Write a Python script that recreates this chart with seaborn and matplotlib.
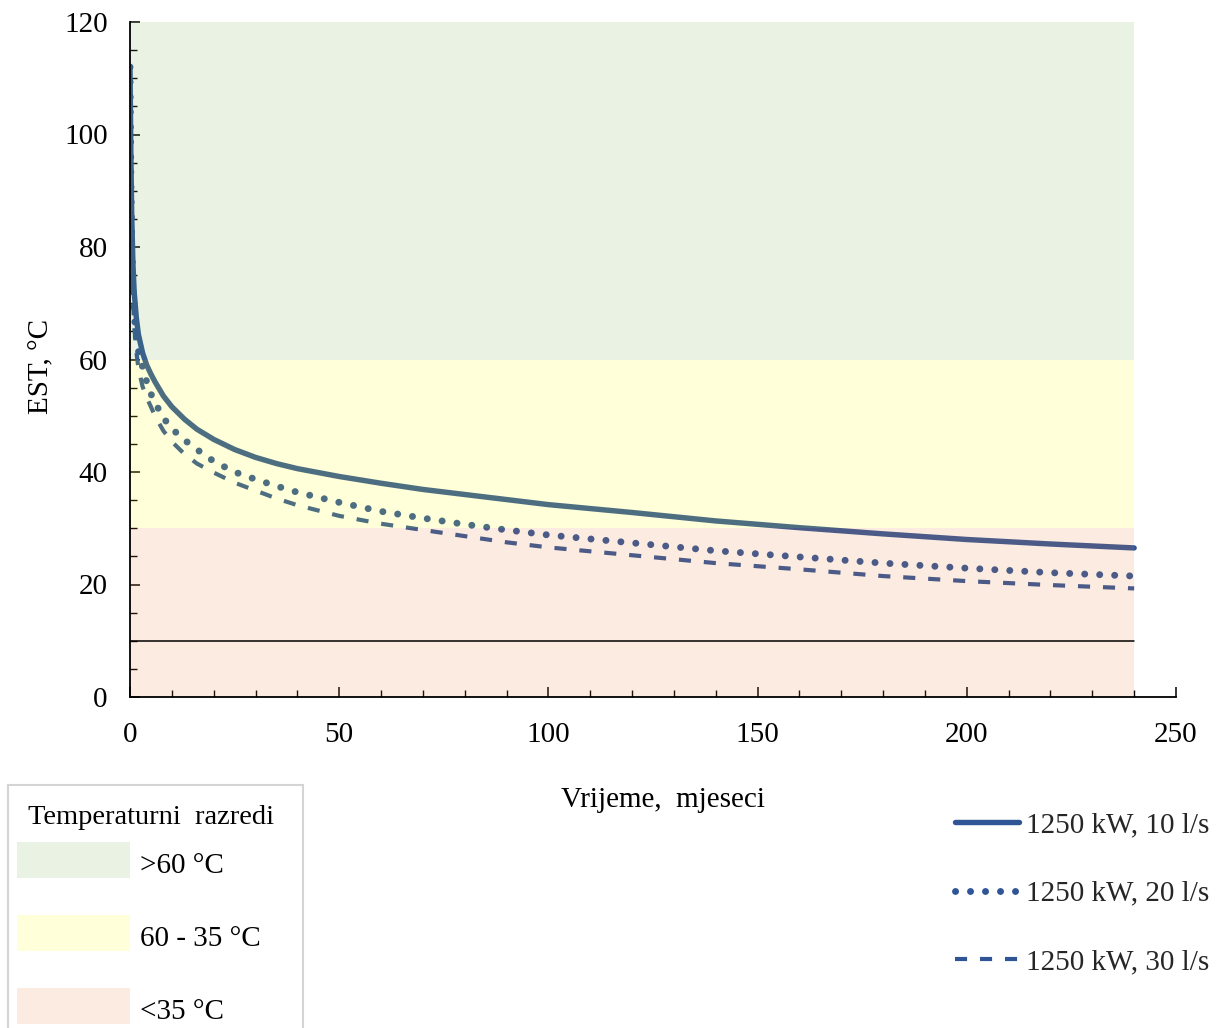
import numpy as np
import pandas as pd
import seaborn as sns
import matplotlib.pyplot as plt
from matplotlib.lines import Line2D
from matplotlib.patches import Rectangle
from matplotlib.ticker import MultipleLocator

# months since start of production
months = [0, 0.2, 0.4, 0.7, 1, 1.5, 2, 3, 4, 5, 6, 8, 10, 13, 16, 20, 25, 30, 35,
          40, 50, 60, 70, 80, 90, 100, 120, 140, 160, 180, 200, 220, 240]

# entering source temperature (EST), deg C
est_10 = [112, 97, 86, 77, 72, 67.5, 64.5, 61.2, 59, 57.4, 56, 53.5, 51.6, 49.4, 47.6,
          45.8, 44.0, 42.6, 41.5, 40.6, 39.2, 38.0, 36.9, 36.0, 35.1, 34.2, 32.8,
          31.3, 30.1, 29.0, 28.0, 27.2, 26.5]
est_20 = [112, 93, 82, 73, 68, 64, 61.5, 58.7, 56, 53.9, 52.3, 49.6, 47.7, 45.7,
          44.0, 41.9, 40.0, 38.7, 37.5, 36.4, 34.6, 33.0, 31.8, 30.7, 29.7, 28.8,
          27.4, 26.0, 24.9, 23.8, 22.9, 22.1, 21.5]
est_30 = [110, 91, 80, 71, 66, 61.5, 58.5, 55.2, 53.2, 51.6, 49.9, 47.3, 45.4, 43.2, 41.5,
          39.9, 38.1, 36.7, 35.3, 34.1, 32.2, 30.8, 29.7, 28.6, 27.5, 26.6, 25.2,
          23.8, 22.7, 21.5, 20.6, 19.9, 19.3]
series_names = ['1250 kW, 10 l/s', '1250 kW, 20 l/s', '1250 kW, 30 l/s']

band_names = ['>60 °C', '60 - 35 °C', '<35 °C']
band_lo = [60, 30, 0]
band_hi = [120, 60, 30]
band_colors = ['#70AD47', '#FFFF00', '#ED7D31']
band_alpha = 0.15

sns.set_theme(style='white')
plt.rcParams['font.family'] = ['Liberation Serif', 'DejaVu Serif']
plt.rcParams['font.size'] = 21

df = pd.DataFrame({
    'month': months * 3,
    'est': est_10 + est_20 + est_30,
    'series': np.repeat(series_names, len(months)),
})

W, H = 1222, 1028
fig = plt.figure(figsize=(W / 100, H / 100), dpi=100)
ax = fig.add_axes([130 / W, 1 - 697 / H, 1046 / W, 675 / H])

line_color = '#2F5597'
styles = {
    series_names[0]: dict(lw=3.9, linestyle='-', solid_capstyle='round'),
    series_names[1]: dict(lw=5.0, linestyle=(0, (0.01, 2.15)), dash_capstyle='round'),
    series_names[2]: dict(lw=3.0, linestyle=(0, (2.9, 3.1)), dash_capstyle='butt'),
}
for name in series_names:
    sub = df[df['series'] == name]
    sns.lineplot(data=sub, x='month', y='est', ax=ax, color=line_color,
                 zorder=2, legend=False, **styles[name])

# translucent temperature bands lie over the curves
for lo, hi, c in zip(band_lo, band_hi, band_colors):
    ax.fill_between([0, 240], lo, hi, color=c, alpha=band_alpha, lw=0, zorder=2.2)
ax.plot([0, 240], [10, 10], color='black', lw=1.1, zorder=2.3)

ax.set_xlim(0, 250)
ax.set_ylim(0, 120)
ax.xaxis.set_major_locator(MultipleLocator(50))
ax.xaxis.set_minor_locator(MultipleLocator(10))
ax.yaxis.set_major_locator(MultipleLocator(20))
ax.yaxis.set_minor_locator(MultipleLocator(5))
ax.tick_params(which='major', direction='in', length=7, width=1.1, color='black',
               labelsize=21, labelcolor='black')
ax.tick_params(axis='x', which='major', pad=18)
ax.tick_params(axis='y', which='major', pad=16)
ax.tick_params(which='minor', direction='in', length=5, width=1.0, color='black')
ax.tick_params(bottom=True, left=True, which='both')
sns.despine(ax=ax)
for s in ['left', 'bottom']:
    ax.spines[s].set_color('black')
    ax.spines[s].set_linewidth(1.3)
    ax.spines[s].set_zorder(3)
ax.set_facecolor('white')

ax.set_xlabel('Vrijeme,  mjeseci', fontsize=21, color='black')
ax.set_ylabel('EST, °C', fontsize=21, color='black')
ax.xaxis.set_label_coords(0.51, -0.133)
ax.yaxis.set_label_coords(-0.072, 0.49)


def fx(px):
    return px / W


def fy(py):
    return 1 - py / H


# temperature class key, boxed in the lower left corner
fig.patches.append(Rectangle((fx(8), fy(1040)), fx(303) - fx(8), fy(785) - fy(1040),
                             transform=fig.transFigure, facecolor='white',
                             edgecolor='#d4d4d4', lw=1.5))
fig.text(fx(28), fy(817), 'Temperaturni  razredi', fontsize=20.5, va='center',
         ha='left', color='black')
key_tops = [842, 915, 988]
for top, c, name in zip(key_tops, band_colors, band_names):
    fig.patches.append(Rectangle((fx(17), fy(top + 36)), fx(130) - fx(17), 36 / H,
                                 transform=fig.transFigure, facecolor=c,
                                 alpha=band_alpha, edgecolor='none'))
    fig.text(fx(140), fy(top + 24), name, fontsize=21, va='center', ha='left',
             color='black')

line_handles = [Line2D([], [], color=line_color, **styles[n]) for n in series_names]
fig.legend(line_handles, series_names, loc='upper left',
           bbox_to_anchor=(955 / W, 1 - 812 / H), fontsize=21,
           frameon=False, handlelength=2.2, handletextpad=0.25,
           labelspacing=1.44, borderpad=0, borderaxespad=0)

fig.savefig('out.png', dpi=100)
